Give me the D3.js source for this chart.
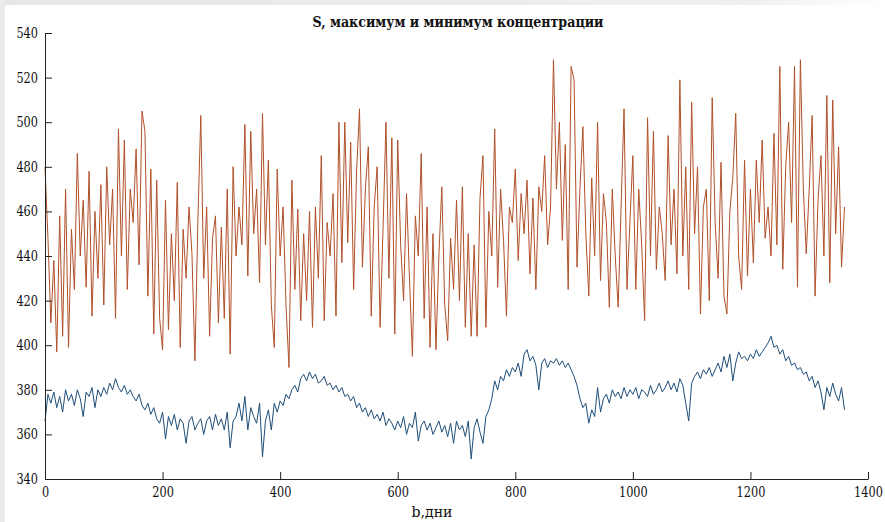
<!DOCTYPE html>
<html>
<head>
<meta charset="utf-8">
<script src="https://cdn.jsdelivr.net/npm/d3@7"></script>
<style>
  body { margin: 0; background: #fff; }
  svg { display: block; }
</style>
</head>
<body>
<div id="chart"></div>
<script>
const step = 5;

const maxSeries = [
    480, 448, 410, 438, 397, 458, 404, 470, 399, 452, 425, 486, 440, 465, 426, 478, 413, 460, 430, 472,
    418, 480, 445, 470, 412, 497, 440, 492, 425, 470, 455, 488, 436, 505, 496, 422, 479, 405, 474, 412,
    398, 465, 407, 450, 420, 473, 399, 452, 430, 462, 441, 393, 455, 503, 430, 462, 404, 448, 458, 410,
    453, 412, 470, 396, 480, 440, 462, 445, 499, 431, 496, 450, 470, 428, 504, 445, 483, 418, 399, 479,
    440, 462, 418, 390, 474, 425, 461, 411, 450, 420, 460, 408, 462, 430, 485, 411, 455, 440, 468, 413,
    500, 437, 500, 446, 491, 425, 478, 506, 435, 470, 489, 413, 462, 480, 408, 452, 500, 430, 493, 405,
    492, 445, 420, 468, 430, 395, 458, 440, 486, 412, 462, 399, 450, 398, 440, 471, 418, 402, 448, 425,
    465, 420, 471, 408, 450, 404, 445, 404, 466, 485, 408, 460, 440, 497, 426, 470, 447, 413, 462, 455,
    479, 438, 468, 450, 474, 432, 466, 425, 471, 460, 485, 445, 462, 528, 470, 500, 447, 490, 425, 525,
    519, 435, 470, 498, 450, 422, 475, 440, 500, 429, 468, 455, 417, 470, 440, 417, 462, 506, 425, 455,
    485, 425, 470, 445, 411, 502, 440, 496, 434, 462, 450, 429, 494, 445, 470, 432, 519, 440, 480, 425,
    509, 450, 480, 414, 462, 470, 420, 511, 455, 430, 482, 422, 414, 460, 475, 504, 440, 425, 483, 431,
    470, 437, 483, 455, 492, 448, 462, 440, 495, 445, 525, 434, 480, 500, 455, 525, 426, 528, 470, 441,
    470, 503, 422, 465, 485, 440, 512, 428, 510, 450, 489, 435, 462
];

const minSeries = [
    366, 378, 374, 379, 372, 377, 370, 380, 375, 378, 373, 380, 376, 368, 379, 377, 381, 372, 380, 377,
    381, 378, 383, 380, 385, 381, 379, 382, 378, 380, 377, 375, 378, 373, 371, 374, 369, 372, 367, 365,
    370, 358, 368, 364, 369, 362, 367, 365, 356, 366, 368, 362, 365, 367, 360, 366, 368, 362, 369, 364,
    367, 362, 370, 354, 366, 368, 374, 366, 377, 362, 372, 368, 365, 374, 350, 366, 371, 362, 374, 370,
    375, 373, 378, 376, 380, 382, 379, 385, 387, 384, 388, 385, 387, 383, 384, 386, 382, 383, 380, 382,
    379, 381, 377, 378, 375, 377, 372, 374, 370, 372, 368, 371, 367, 369, 366, 370, 364, 367, 365, 362,
    366, 363, 368, 360, 365, 363, 370, 357, 364, 366, 362, 365, 360, 363, 366, 361, 364, 359, 365, 356,
    366, 362, 364, 359, 366, 349, 363, 367, 361, 356, 368, 371, 376, 384, 380, 386, 384, 389, 386, 390,
    388, 392, 386, 396, 398, 393, 395, 391, 380, 392, 394, 390, 393, 392, 394, 391, 393, 390, 392, 389,
    386, 382, 376, 372, 374, 365, 371, 368, 381, 370, 376, 378, 374, 380, 377, 379, 376, 381, 377, 380,
    378, 381, 376, 380, 379, 377, 382, 378, 380, 383, 379, 381, 384, 380, 383, 379, 385, 382, 374, 366,
    383, 386, 388, 385, 389, 387, 390, 386, 389, 392, 388, 395, 390, 396, 384, 392, 397, 394, 395, 393,
    396, 394, 398, 395, 397, 399, 401, 404, 399, 400, 396, 398, 393, 395, 391, 392, 389, 390, 387, 388,
    384, 386, 381, 384, 379, 371, 381, 377, 383, 378, 375, 381, 371
];

const xTicks = [0, 200, 400, 600, 800, 1000, 1200, 1400];
const yTicks = [340, 360, 380, 400, 420, 440, 460, 480, 500, 520, 540];

const title = 'S, максимум и минимум концентрации';
const xLabel = 'b,дни';

const width = 885;
const height = 522;
const margin = { top: 33, right: 17, bottom: 43, left: 45 };
// only DejaVu Serif resolves as a serif face here; squeeze it to look like condensed Times
const serif = '"DejaVu Serif Condensed", "DejaVu Serif", serif';

const svg = d3.select('#chart')
    .append('svg')
    .attr('width', width)
    .attr('height', height);

// faint grey frame on the top and left edges of the screenshot
const defs = svg.append('defs');
const grad = defs.append('linearGradient').attr('id', 'topfade');
grad.append('stop').attr('offset', '0%').attr('stop-color', '#e6e6e6');
grad.append('stop').attr('offset', '85%').attr('stop-color', '#f0f0f0');
grad.append('stop').attr('offset', '100%').attr('stop-color', '#ffffff');
svg.append('rect').attr('x', 0).attr('y', 0).attr('width', width).attr('height', 5).attr('fill', 'url(#topfade)');
svg.append('rect').attr('x', 0).attr('y', 0).attr('width', 5).attr('height', height).attr('fill', '#ebebeb');

const x = d3.scaleLinear()
    .domain([0, 1400])
    .range([margin.left, width - margin.right]);

const y = d3.scaleLinear()
    .domain([340, 540])
    .range([height - margin.bottom, margin.top]);

const line = d3.line()
    .x((d, i) => x(i * step))
    .y(d => y(d));

svg.append('path')
    .datum(maxSeries)
    .attr('fill', 'none')
    .attr('stroke', '#b0502a')
    .attr('stroke-width', 1)
    .attr('d', line);

svg.append('path')
    .datum(minSeries)
    .attr('fill', 'none')
    .attr('stroke', '#1f4e79')
    .attr('stroke-width', 1)
    .attr('d', line);

const xAxis = svg.append('g')
    .attr('transform', `translate(0,${height - margin.bottom})`)
    .call(d3.axisBottom(x).tickValues(xTicks).tickFormat(d3.format('d'))
        .tickSize(-7).tickSizeOuter(0).tickPadding(8));

const yAxis = svg.append('g')
    .attr('transform', `translate(${margin.left},0)`)
    .call(d3.axisLeft(y).tickValues(yTicks).tickFormat(d3.format('d'))
        .tickSize(-7).tickSizeOuter(0).tickPadding(7));

[xAxis, yAxis].forEach(g => {
    g.attr('font-family', null).attr('font-size', null);
    g.selectAll('path, line').attr('stroke', '#222').attr('stroke-width', 1);
    g.selectAll('text')
        .attr('fill', '#111')
        .style('font-family', serif)
        .style('font-size', '14px')
        .attr('textLength', function() { return this.textContent.length * 7.2; })
        .attr('lengthAdjust', 'spacingAndGlyphs');
});

svg.append('text')
    .attr('x', 458)
    .attr('y', 27)
    .attr('text-anchor', 'middle')
    .style('font-family', serif)
    .style('font-size', '15px')
    .style('font-weight', 'bold')
    .attr('fill', '#111')
    .attr('textLength', 291)
    .attr('lengthAdjust', 'spacingAndGlyphs')
    .text(title);

svg.append('text')
    .attr('x', 432)
    .attr('y', 517)
    .attr('text-anchor', 'middle')
    .style('font-family', serif)
    .style('font-size', '15px')
    .attr('fill', '#111')
    .attr('textLength', 41)
    .attr('lengthAdjust', 'spacingAndGlyphs')
    .text(xLabel);
</script>
</body>
</html>
